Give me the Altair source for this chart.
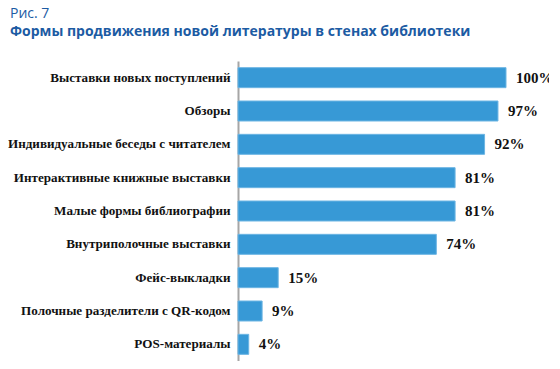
import altair as alt
import pandas as pd

categories = [
    "Выставки новых поступлений",
    "Обзоры",
    "Индивидуальные беседы с читателем",
    "Интерактивные книжные выставки",
    "Малые формы библиографии",
    "Внутриполочные выставки",
    "Фейс-выкладки",
    "Полочные разделители с QR-кодом",
    "POS-материалы",
]
values = [100, 97, 92, 81, 81, 74, 15, 9, 4]
labels = ["100%", "97%", "92%", "81%", "81%", "74%", "15%", "9%", "4%"]

df = pd.DataFrame({"cat": categories, "val": values, "lab": labels})

y = alt.Y(
    "cat:N",
    sort=categories,
    title=None,
    scale=alt.Scale(paddingInner=0.4, paddingOuter=0.2),
    axis=alt.Axis(
        labelFont="Liberation Serif",
        labelFontWeight="bold",
        labelFontSize=13.1,
        labelColor="#111111",
        labelPadding=8,
        labelLimit=0,
        ticks=False,
        domainColor="#a6a6a6",
        domainWidth=2,
        grid=False,
    ),
)
x = alt.X("val:Q", scale=alt.Scale(domain=[0, 106.34]), axis=None)

bars = alt.Chart(df).mark_bar(color="#3799d6", stroke="#6cb5e3", strokeWidth=1).encode(x=x, y=y)
text = alt.Chart(df).mark_text(
    align="left", baseline="middle", dx=10,
    font="Liberation Serif", fontWeight="bold", fontSize=15, color="#111111",
).encode(x=x, y=y, text="lab:N")

chart = (
    alt.layer(bars, text)
    .properties(
        width=285,
        height=300,
        autosize=alt.AutoSizeParams(type="none"),
        padding={"left": 230, "top": 53, "right": 26, "bottom": 0},
        title=alt.TitleParams(
            text="Рис. 7",
            subtitle="Формы продвижения новой литературы в стенах библиотеки",
            anchor="start",
            frame="group",
            dx=-228,
            font="Open Sans",
            fontSize=14,
            fontWeight="normal",
            color="#1c5ba3",
            subtitleFont="Open Sans",
            subtitleFontSize=14,
            subtitleFontWeight="bold",
            subtitleColor="#1c5ba3",
            subtitlePadding=4,
            offset=22,
        ),
    )
    .configure_view(stroke=None)
)

chart.save("out.html", embed_options={"renderer": "svg", "actions": False})
